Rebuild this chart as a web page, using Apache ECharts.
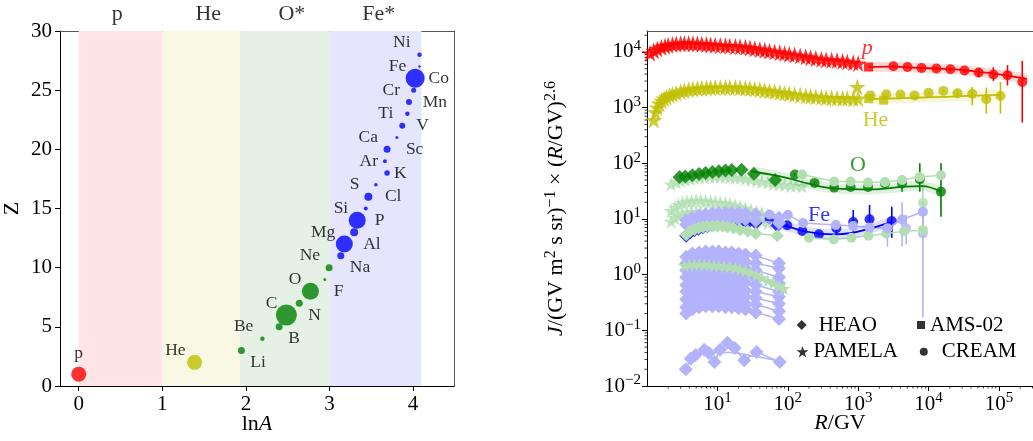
<!DOCTYPE html>
<html>
<head>
<meta charset="utf-8">
<script src="https://cdn.jsdelivr.net/npm/echarts@6.0.0/dist/echarts.min.js"></script>
<style>
  html, body { margin: 0; padding: 0; background: #fff; }
  #chart { width: 1033px; height: 441px; }
</style>
</head>
<body>
<div id="chart"></div>
<script>
// ---------- left panel: nuclei, Z vs lnA ----------
const elemNames = ['p', 'He', 'Li', 'Be', 'B', 'C', 'N', 'O', 'F', 'Ne', 'Na', 'Mg', 'Al', 'Si',
  'P', 'S', 'Cl', 'Ar', 'K', 'Ca', 'Sc', 'Ti', 'V', 'Cr', 'Mn', 'Fe', 'Co', 'Ni'];
const elemZ = [1, 2, 3, 4, 5, 6, 7, 8, 9, 10, 11, 12, 13, 14, 15, 16, 17, 18, 19, 20, 21, 22, 23, 24, 25, 26, 27, 28];
const elemA = [1, 4, 7, 9, 11, 12, 14, 16, 19, 20, 23, 24, 27, 28, 31, 32, 35, 40, 39, 40, 45, 48, 51, 52, 55, 56, 59, 59];
// relative abundance, shown as dot diameter
const elemDot = [15, 15, 7, 4.5, 7, 21, 7, 17, 3, 7, 7, 17, 8, 17, 4, 8, 3.5, 5.5, 4, 7, 3, 6, 4.5, 6, 5, 19, 2.5, 4.5];
const groupNames = ['p', 'He', 'O*', 'Fe*'];
const groupEdges = [0, 1, 1.93, 3, 4.1];

// ---------- right panel: spectra J x R^2.6 ----------
// proton
const pPamR = [1.1, 1.25, 1.4, 1.6, 1.8, 2.0, 2.3, 2.6, 3.0, 3.4, 3.9, 4.5, 5.2, 6.0, 7.0, 8.0, 9.3, 11, 13, 15, 18, 21, 25, 29, 34,
  40, 47, 55, 65, 77, 90, 105, 125, 150, 180, 210, 250, 300, 350, 420, 500, 600, 700, 850, 1000];
const pPamJ = [9500, 10500, 11300, 12100, 12700, 13200, 13600, 13900, 14100, 14200, 14200, 14100, 14000, 13800, 13600, 13400,
  13200, 13000, 12900, 12800, 12600, 12400, 12100, 11800, 11400, 11000, 10700, 10300, 10000, 9700, 9400, 9100, 8800, 8500,
  8200, 7900, 7600, 7400, 7200, 7100, 7000, 6800, 6600, 6400, 6200];
const pAmsR = [1400];
const pAmsJ = [5370];
const pCreamR = [3160, 5010, 7940, 12900, 20400, 32400, 51300, 83200, 132000, 214000];
const pCreamJ = [5530, 5380, 5160, 5030, 4890, 4630, 4270, 3930, 3810, 2890];
const pCreamLo = [5300, 5150, 4920, 4780, 4600, 4300, 3500, 3000, 2500, 540];
const pCreamHi = [5750, 5600, 5400, 5300, 5200, 4950, 5100, 5300, 5800, 6900];
const pFitR = [1400, 3000, 6000, 12000, 24000, 48000, 96000, 200000, 250000];
const pFitJ = [5370, 5450, 5250, 5050, 4850, 4450, 4000, 3450, 3300];

// helium
const hePamR = [1.25, 1.32, 1.4, 1.5, 1.62, 1.75, 1.9, 2.1, 2.3, 2.6, 3.0, 3.4, 3.9, 4.5, 5.2, 6.0, 7.0, 8.0, 9.3, 11, 13, 15,
  18, 21, 25, 29, 34, 40, 47, 55, 65, 77, 90, 105, 125, 150, 180, 210, 250, 300, 350, 420, 500, 600, 700, 850, 1000, 970];
const hePamJ = [600, 820, 1000, 1180, 1330, 1450, 1560, 1660, 1740, 1830, 1930, 2020, 2100, 2160, 2200, 2230, 2260, 2280,
  2290, 2300, 2300, 2300, 2290, 2270, 2240, 2200, 2150, 2100, 2040, 1980, 1920, 1870, 1820, 1770, 1720, 1670, 1630, 1590,
  1560, 1530, 1500, 1490, 1480, 1470, 1460, 1450, 1450, 2350];
const heAmsR = [1410, 2300];
const heAmsJ = [1450, 1360];
const heCreamR = [1490, 2510, 3980, 6310, 10000, 16200, 25700, 41700, 66100, 105000];
const heCreamJ = [1660, 1740, 1720, 1660, 1860, 2000, 1820, 1780, 1410, 1620];
const heCreamLo = [1600, 1680, 1660, 1600, 1780, 1900, 1550, 1100, 780, 780];
const heCreamHi = [1720, 1800, 1780, 1720, 1940, 2100, 2190, 2350, 2290, 2890];
const heFitR = [1400, 3000, 6000, 12000, 25000, 50000, 105000];
const heFitJ = [1420, 1460, 1500, 1540, 1590, 1650, 1700];

// oxygen
const oHeaoR = [2.9, 3.5, 4.4, 5.5, 6.8, 8.5, 10.5, 13, 16, 22, 33, 66];
const oHeaoJ = [57, 58, 61, 64, 67, 70, 72, 74, 76, 77, 65, 50];
const oCreamR = [126, 240, 455, 780, 1380, 2400, 4200, 7500, 15000];
const oCreamJ = [63, 44.5, 36.6, 37.6, 37.6, 43.5, 43.5, 51.6, 31];
const oCreamLo = [60, 42.5, 35, 36, 36, 41, 31, 31, 11];
const oCreamHi = [66, 46.5, 38.3, 39.3, 39.3, 46, 60, 100, 100];
const oFitR = [30, 60, 100, 200, 450, 1500, 4500, 8000, 15000];
const oFitJ = [72, 62, 54, 43, 35.5, 34, 38, 39, 31];

// iron
const feHeaoR = [3.6, 4.1, 4.7, 5.4, 6.2, 7.2, 8.5, 10, 12, 14, 17, 21, 27, 35, 71];
const feHeaoJ = [5.0, 5.8, 6.3, 6.7, 7.1, 7.4, 7.7, 8.0, 8.2, 8.4, 8.5, 8.6, 8.6, 8.6, 7.6];
const feCreamR = [55, 98, 161, 277, 490, 850, 1450, 3000];
const feCreamJ = [10.2, 7.7, 6.1, 5.3, 6.8, 8.8, 9.9, 9.2];
const feCreamLo = [9.6, 7.3, 5.8, 5.0, 5.1, 5.9, 5.9, 4.6];
const feCreamHi = [10.8, 8.1, 6.4, 5.6, 9.5, 14.5, 17.9, 16.6];
const feFitR = [60, 100, 200, 450, 800, 1500, 3000];
const feFitJ = [8.4, 7.3, 5.8, 5.3, 5.6, 6.8, 8.8];

// other members of the O* group (light green)
const lgStarR = [2.2, 2.6, 3.0, 3.5, 4.1, 4.8, 5.6, 6.6, 7.8, 9.2, 11, 13, 15, 18, 21, 25, 30, 36, 43, 52, 62, 75, 90, 110, 130, 160];
const lgStarCJ = [42, 46, 49, 51, 53, 55, 56, 57, 58, 58, 58, 58, 57, 56, 55, 53, 51, 49, 47, 45, 43, 42, 41, 40, 40, 39];
const lgMidR = [2.2, 2.5, 2.8, 3.2, 3.7, 4.3, 5, 5.8, 6.8, 8, 9.3, 11, 13, 15, 18, 21, 25, 30, 36, 43, 52];
const lgMidJ1 = [14, 16, 18, 19.5, 20.5, 21, 21.5, 21.5, 21, 20.5, 20, 19.5, 19, 18.5, 17.5, 16.5, 15.5, 14.5, 13.5, 12.5, 11.5];
const lgMidJ2 = [9, 10.5, 11.5, 12.5, 13, 13.5, 13.5, 13.5, 13.5, 13, 13, 12.5, 12, 12, 11.5, 11, 10.5, 10, 9.5, 9, 8.5];
const lgHeaoJ = [5.2, 6.0, 6.5, 6.9, 7.2, 7.4, 7.5, 7.5, 7.4, 7.2, 6.9, 6.4, 6.0, 5.5, 5.0];
const lgCreamCR = [160, 455, 780, 1380, 2400, 4200, 7500, 15000];
const lgCreamCJ = [63, 47, 47, 45, 46, 50, 57, 61];
const lgCreamNR = [200, 450, 800, 1400, 2500, 4500, 8300];
const lgCreamNJ = [4.6, 4.3, 4.6, 5.0, 5.5, 6.0, 6.3];
const lgTopR = [8300];
const lgTopJ = [19.5];
const lgTopLo = [5];
const lgTopHi = [45];
const lgLowR = [3.4, 4, 4.7, 5.5, 6.5, 7.6, 9, 10.5, 12.5, 15, 18, 21, 25, 30, 36, 43, 52, 62, 75, 88];
const lgLowJ1 = [1.45, 1.5, 1.52, 1.52, 1.5, 1.48, 1.46, 1.44, 1.42, 1.38, 1.32, 1.25, 1.17, 1.08, 0.98, 0.88, 0.78, 0.7, 0.62, 0.56];
const lgLowJ2 = [1.2, 1.25, 1.28, 1.3, 1.3, 1.3, 1.28, 1.27, 1.25, 1.22, 1.18, 1.12, 1.05, 0.98, 0.9, 0.82, 0.74, 0.67, 0.6, 0.55];

// other members of the Fe* group (lavender)
const lvHeaoR = [3.6, 4.4, 5.5, 6.8, 8.5, 10.5, 13, 16, 20, 25, 35, 75];
const lvHeaoRows = [
  [9.5, 10.5, 11.5, 12, 12.5, 12.8, 13, 13, 12.8, 12.5, 12, 10.5],
  [8, 9, 9.5, 10, 10.3, 10.5, 10.5, 10.3, 10, 9.8, 9.3, 8.5],
  [2.1, 2.4, 2.5, 2.6, 2.6, 2.6, 2.5, 2.5, 2.4, 2.3, 2.2, 1.6],
  [1.6, 1.8, 1.9, 2.0, 2.0, 2.0, 1.9, 1.9, 1.8, 1.7, 1.6, 1.3],
  [1.2, 1.35, 1.45, 1.5, 1.5, 1.5, 1.45, 1.4, 1.35, 1.3, 1.2, 0.9],
  [0.9, 1.0, 1.05, 1.1, 1.1, 1.1, 1.05, 1.0, 1.0, 0.95, 0.85, 0.7],
  [0.65, 0.75, 0.8, 0.82, 0.82, 0.82, 0.8, 0.78, 0.75, 0.72, 0.65, 0.5],
  [0.5, 0.56, 0.6, 0.62, 0.62, 0.6, 0.6, 0.58, 0.55, 0.52, 0.5, 0.4],
  [0.36, 0.42, 0.45, 0.46, 0.47, 0.46, 0.45, 0.44, 0.42, 0.4, 0.38, 0.3],
  [0.26, 0.3, 0.32, 0.33, 0.34, 0.33, 0.33, 0.32, 0.31, 0.3, 0.29, 0.22],
  [0.2, 0.24, 0.26, 0.27, 0.27, 0.27, 0.26, 0.26, 0.25, 0.24, 0.21, 0.16]
];
const lvCreamR = [55, 100, 165, 480, 850, 1450, 2600, 4200, 8300];
const lvCreamJ = [12, 11.8, 8.5, 7.8, 7.5, 7, 6.8, 9.8, 13.5];
const lvCreamLo = [11, 11, 8, 7.1, 6.5, 5.8, 3.2, 3.2, 7];
const lvCreamHi = [13, 12.6, 9, 8.6, 8.5, 8.2, 10.2, 20, 20];
const lvCream2R = [4800, 8300];
const lvCream2J = [6.8, 5.5];
const lvCream2Lo = [3.5, 0.17];
const lvCream2Hi = [12, 20];
const lvLowR = [3.55, 4.18, 4.9, 6.5, 7.6, 9.1, 10.9, 13.9, 17.6, 24, 36, 77];
const lvLowJ = [0.020, 0.031, 0.036, 0.045, 0.039, 0.027, 0.045, 0.060, 0.048, 0.029, 0.041, 0.027];
const lvLowFitR = [4, 8, 15, 30, 77];
const lvLowFitJ = [0.036, 0.040, 0.040, 0.035, 0.028];

// element name tags in the right panel
const tagNames = ['p', 'He', 'O', 'Fe'];
const tagR = [1350, 1760, 990, 277];
const tagJ = [11500, 590, 92, 11.5];

// ---------- style ----------
const SERIF = '"Liberation Serif", "DejaVu Serif", serif';
const RED = '#ff0000', YEL = '#bfbf00', GRN = '#008000', BLU = '#0000ff';
const LGRN = '#b2deb2', LBLU = '#b3b3fb';
const groupColors = [RED, YEL, GRN, BLU];
const bandColors = ['#ffe5e5', '#f8f8e4', '#e5f1e5', '#e5e5fd'];
const groupTitleAt = [0.46, 1.55, 2.55, 3.59];
const STAR = 'path://M50,2 L61,36 L97,36 L68,57 L79,92 L50,70 L21,92 L32,57 L3,36 L39,36 Z';

const pts = (xs, ys) => xs.map((x, i) => [x, ys[i]]);
const groupOf = z => (z === 1 ? 0 : z === 2 ? 1 : z <= 10 ? 2 : 3);

function elemLabel(z) {
  if (z === 1) return { show: true, position: 'inside', offset: [0, -21], align: 'center' };
  if (z % 2) return { show: true, position: 'inside', offset: [9, 12], align: 'left' };
  return { show: true, position: 'inside', offset: [-9, -12], align: 'right' };
}

function marks(data, color, symbol, size) {
  return {
    type: 'scatter', xAxisIndex: 2, yAxisIndex: 2, silent: true,
    data, symbol, symbolSize: size, itemStyle: { color }
  };
}
function joined(data, color, symbol, size) {
  return {
    type: 'line', xAxisIndex: 2, yAxisIndex: 2, silent: true,
    data, symbol, symbolSize: size, showSymbol: true,
    itemStyle: { color }, lineStyle: { color, width: 1.5 }
  };
}
function fit(data, color, width, opacity) {
  return {
    type: 'line', xAxisIndex: 2, yAxisIndex: 2, silent: true,
    data, symbol: 'none', smooth: 0.4,
    lineStyle: { color, width, opacity }
  };
}
function errBars(xs, lo, hi, color) {
  return {
    type: 'custom', xAxisIndex: 2, yAxisIndex: 2, silent: true,
    data: xs.map((x, i) => [x, lo[i], hi[i]]),
    encode: { x: 0, y: [1, 2] },
    renderItem: (params, api) => {
      const a = api.coord([api.value(0), api.value(1)]);
      const b = api.coord([api.value(0), api.value(2)]);
      return { type: 'line', shape: { x1: a[0], y1: a[1], x2: b[0], y2: b[1] },
        style: { stroke: color, lineWidth: 1.6 } };
    }
  };
}

function powLabel(v) {
  const e = Math.log10(v), r = Math.round(e);
  if (Math.abs(e - r) > 1e-6) return '';
  return '{b|10}{s|' + (r < 0 ? '\u2212' + (-r) : r) + '}';
}
const powRich = {
  b: { fontSize: 21, fontFamily: SERIF, color: '#000', lineHeight: 26 },
  s: { fontSize: 15, fontFamily: SERIF, color: '#000', lineHeight: 13, verticalAlign: 'top' }
};

// axis ranges of the log panel
const R_MIN = 1, R_MAX = Math.pow(10, 5.483);
const J_MIN = 0.01, J_MAX = 23800;

// minor ticks of the log axes (2..9 in each decade)
const minorR = [], minorJ = [];
for (let d = 0; d <= 5; d++) for (let k = 2; k <= 9; k++) {
  const v = k * Math.pow(10, d); if (v < R_MAX) minorR.push([v, J_MIN]);
}
for (let d = -2; d <= 4; d++) for (let k = 2; k <= 9; k++) {
  const v = k * Math.pow(10, d); if (v < J_MAX) minorJ.push([R_MIN, v]);
}

const blackAxis = { lineStyle: { color: '#000', width: 1 } };
const tickFont = { fontSize: 21, fontFamily: SERIF, color: '#000' };

// ---------- series ----------
const series = [];

// left panel: group bands + nuclei
series.push({
  type: 'scatter', xAxisIndex: 0, yAxisIndex: 0, silent: true,
  data: elemZ.map((z, i) => ({
    value: [Math.log(elemA[i]), z],
    symbolSize: elemDot[i],
    itemStyle: { color: groupColors[groupOf(z)] },
    label: Object.assign(elemLabel(z), { formatter: elemNames[i] })
  })),
  label: { fontSize: 17.5, fontFamily: SERIF, color: '#000', verticalAlign: 'middle' },
  markArea: {
    silent: true,
    data: groupNames.map((g, i) => [
      { xAxis: groupEdges[i], itemStyle: { color: bandColors[i] } },
      { xAxis: groupEdges[i + 1] }
    ])
  },
  z: 3
});
series.push({
  type: 'scatter', xAxisIndex: 0, yAxisIndex: 0, silent: true, symbolSize: 0,
  data: groupTitleAt.map((x, i) => ({ value: [x, 30], name: groupNames[i] })),
  label: { show: true, position: 'inside', offset: [0, -17], formatter: p => p.name,
    fontSize: 22, fontFamily: SERIF, color: '#000' }
});

// right panel: minor ticks
series.push({
  type: 'custom', xAxisIndex: 2, yAxisIndex: 2, silent: true, data: minorR, encode: { x: 0, y: 1 },
  renderItem: (params, api) => {
    const p = api.coord([api.value(0), api.value(1)]);
    return { type: 'line', shape: { x1: p[0], y1: p[1], x2: p[0], y2: p[1] + 2.5 }, style: { stroke: '#000', lineWidth: 0.8 } };
  }
});
series.push({
  type: 'custom', xAxisIndex: 2, yAxisIndex: 2, silent: true, data: minorJ, encode: { x: 0, y: 1 },
  renderItem: (params, api) => {
    const p = api.coord([api.value(0), api.value(1)]);
    return { type: 'line', shape: { x1: p[0], y1: p[1], x2: p[0] - 2.5, y2: p[1] }, style: { stroke: '#000', lineWidth: 0.8 } };
  }
});

// lavender group (Fe*)
lvHeaoRows.forEach(row => series.push(joined(pts(lvHeaoR, row), LBLU, 'diamond', 14)));
series.push(joined(pts(lvLowR, lvLowJ), LBLU, 'diamond', 14));
series.push(fit(pts(lvLowFitR, lvLowFitJ), LBLU, 1.5, 1));
// light green group (O*)
series.push(joined(pts(lgLowR, lgLowJ1), LGRN, STAR, 13));
series.push(fit(pts(lgLowR, lgLowJ2), LGRN, 1.5, 1));
series.push(marks(pts(lgMidR, lgMidJ1), LGRN, STAR, 15));
series.push(marks(pts(lgMidR, lgMidJ2), LGRN, STAR, 15));
series.push(marks(pts(lgStarR, lgStarCJ), LGRN, STAR, 15));
series.push(joined(pts(feHeaoR, lgHeaoJ), LGRN, 'diamond', 13));
series.push(joined(pts(lgCreamCR, lgCreamCJ), LGRN, 'circle', 10));
series.push(joined(pts(lgCreamNR, lgCreamNJ), LGRN, 'circle', 10));
series.push(errBars(lgTopR, lgTopLo, lgTopHi, LGRN));
series.push(marks(pts(lgTopR, lgTopJ), LGRN, 'circle', 10));
// lavender CREAM
series.push(errBars(lvCreamR, lvCreamLo, lvCreamHi, LBLU));
series.push(joined(pts(lvCreamR, lvCreamJ), LBLU, 'circle', 10));
series.push(errBars(lvCream2R, lvCream2Lo, lvCream2Hi, LBLU));
series.push(marks(pts(lvCream2R, lvCream2J), LBLU, 'circle', 10));

// proton
series.push(fit(pts(pFitR, pFitJ), RED, 10, 0.15));
series.push(fit(pts(pFitR, pFitJ), RED, 1.8, 1));
series.push(marks(pts(pPamR, pPamJ), RED, STAR, 17));
series.push(marks(pts(pAmsR, pAmsJ), RED, 'rect', 9));
series.push(errBars(pCreamR, pCreamLo, pCreamHi, RED));
series.push(marks(pts(pCreamR, pCreamJ), RED, 'circle', 10));
// helium
series.push(fit(pts(heFitR, heFitJ), YEL, 10, 0.15));
series.push(fit(pts(heFitR, heFitJ), YEL, 1.8, 1));
series.push(marks(pts(hePamR, hePamJ), YEL, STAR, 17));
series.push(marks(pts(heAmsR, heAmsJ), YEL, 'rect', 9));
series.push(errBars(heCreamR, heCreamLo, heCreamHi, YEL));
series.push(marks(pts(heCreamR, heCreamJ), YEL, 'circle', 10));
// oxygen
series.push(fit(pts(oFitR, oFitJ), GRN, 10, 0.12));
series.push(fit(pts(oFitR, oFitJ), GRN, 1.8, 1));
series.push(marks(pts(oHeaoR, oHeaoJ), GRN, 'diamond', 14));
series.push(errBars(oCreamR, oCreamLo, oCreamHi, GRN));
series.push(marks(pts(oCreamR, oCreamJ), GRN, 'circle', 10));
// iron
series.push(fit(pts(feFitR, feFitJ), BLU, 10, 0.12));
series.push(fit(pts(feFitR, feFitJ), BLU, 1.8, 1));
series.push(marks(pts(feHeaoR, feHeaoJ), BLU, 'diamond', 14));
series.push(errBars(feCreamR, feCreamLo, feCreamHi, BLU));
series.push(marks(pts(feCreamR, feCreamJ), BLU, 'circle', 10));

// element tags
series.push({
  type: 'scatter', xAxisIndex: 2, yAxisIndex: 2, silent: true, symbolSize: 0, z: 10,
  data: tagNames.map((n, i) => ({
    value: [tagR[i], tagJ[i]], name: n,
    label: { color: groupColors[i], fontStyle: i === 0 ? 'italic' : 'normal' }
  })),
  label: { show: true, position: 'inside', formatter: p => p.name, fontSize: 22, fontFamily: SERIF }
});

// legend entries
const legendItems = [
  { name: 'HEAO', icon: 'diamond', w: 10, left: 796.7, top: 325, pad: 7 },
  { name: 'AMS-02', icon: 'rect', w: 8, left: 917, top: 325, pad: 0 },
  { name: 'PAMELA', icon: STAR, w: 12, left: 796.5, top: 351.7, pad: 0 },
  { name: 'CREAM', icon: 'circle', w: 8, left: 919.8, top: 351.7, pad: 9 }
];
legendItems.forEach(it => series.push({
  name: it.name, type: 'scatter', xAxisIndex: 2, yAxisIndex: 2, data: [],
  symbol: it.icon, itemStyle: { color: '#000' }
}));

const titleRich = {
  n: { fontSize: 22, fontFamily: SERIF, color: '#000', lineHeight: 26 },
  i: { fontSize: 22, fontFamily: SERIF, color: '#000', fontStyle: 'italic', lineHeight: 26 },
  s: { fontSize: 16, fontFamily: SERIF, color: '#000', lineHeight: 13, verticalAlign: 'top' }
};

const option = {
  animation: false,
  backgroundColor: '#fff',
  grid: [
    { left: 60, top: 31, width: 394, height: 355, containLabel: false, outerBoundsMode: 'none' },
    { left: 647, top: 31, width: 386, height: 355, containLabel: false, outerBoundsMode: 'none' }
  ],
  xAxis: [
    {
      gridIndex: 0, type: 'value', min: -0.224, max: 4.49, position: 'bottom',
      axisLine: Object.assign({ onZero: false }, blackAxis),
      axisTick: { length: 5, lineStyle: { color: '#000' } },
      splitLine: { show: false },
      axisLabel: Object.assign({ margin: 8, showMinLabel: false, showMaxLabel: false,
        formatter: v => (Number.isInteger(v) ? String(v) : '') }, tickFont),
      name: '{n|ln}{i|A}', nameLocation: 'middle', nameGap: 25, nameMoveOverlap: false,
      nameTextStyle: { rich: titleRich }
    },
    {
      gridIndex: 0, type: 'value', min: -0.224, max: 4.49, position: 'top',
      axisLine: { onZero: false, lineStyle: { color: '#555', width: 1 } },
      axisTick: { show: false }, axisLabel: { show: false }, splitLine: { show: false }
    },
    {
      gridIndex: 1, type: 'log', logBase: 10, min: R_MIN, max: R_MAX, position: 'bottom',
      axisLine: Object.assign({ onZero: false }, blackAxis),
      axisTick: { length: 5, lineStyle: { color: '#000' } },
      splitLine: { show: false }, minorSplitLine: { show: false },
      axisLabel: { margin: 5, showMinLabel: false, showMaxLabel: false,
        formatter: v => (v < 5 ? '' : powLabel(v)), rich: powRich },
      name: '{i|R}{n|/GV}', nameLocation: 'middle', nameGap: 24, nameMoveOverlap: false,
      nameTextStyle: { rich: titleRich }
    },
    {
      gridIndex: 1, type: 'log', logBase: 10, min: R_MIN, max: R_MAX, position: 'top',
      axisLine: { onZero: false, lineStyle: { color: '#555', width: 1 } },
      axisTick: { show: false }, axisLabel: { show: false }, splitLine: { show: false }
    }
  ],
  yAxis: [
    {
      gridIndex: 0, type: 'value', min: 0, max: 30, interval: 5, position: 'left',
      axisLine: Object.assign({ show: true, onZero: false }, blackAxis),
      axisTick: { show: true, length: 5, lineStyle: { color: '#000' } },
      splitLine: { show: false },
      axisLabel: Object.assign({ margin: 8 }, tickFont),
      name: 'Z', nameLocation: 'middle', nameGap: 37, nameRotate: 90,
      nameTextStyle: { fontSize: 22, fontFamily: SERIF, color: '#000' }
    },
    {
      gridIndex: 0, type: 'value', min: 0, max: 30, position: 'right',
      axisLine: { show: true, onZero: false, lineStyle: { color: '#555', width: 1 } },
      axisTick: { show: false }, axisLabel: { show: false }, splitLine: { show: false }
    },
    {
      gridIndex: 1, type: 'log', logBase: 10, min: J_MIN, max: J_MAX, position: 'left',
      axisLine: Object.assign({ show: true, onZero: false }, blackAxis),
      axisTick: { show: true, length: 5, lineStyle: { color: '#000' } },
      splitLine: { show: false }, minorSplitLine: { show: false },
      axisLabel: { margin: 6, showMaxLabel: false, formatter: powLabel, rich: powRich },
      name: '{i|J}{n|/(GV m}{s|2}{n| s sr)}{s|\u22121}{n| \u00d7 (}{i|R}{n|/GV)}{s|2.6}',
      nameLocation: 'middle', nameGap: 78, nameRotate: 90,
      nameTextStyle: { rich: titleRich }
    }
  ],
  legend: legendItems.map(it => ({
    data: [{ name: it.name, icon: it.icon }],
    left: it.left, top: it.top - 12, padding: 0,
    itemWidth: it.w, itemHeight: it.w, selectedMode: false,
    textStyle: { fontSize: 21, fontFamily: SERIF, color: '#000', lineHeight: 24, padding: [0, 0, 0, it.pad] }
  })),
  series
};

const chart = echarts.init(document.getElementById('chart'), null, { renderer: 'canvas' });
chart.setOption(option);
</script>
</body>
</html>
